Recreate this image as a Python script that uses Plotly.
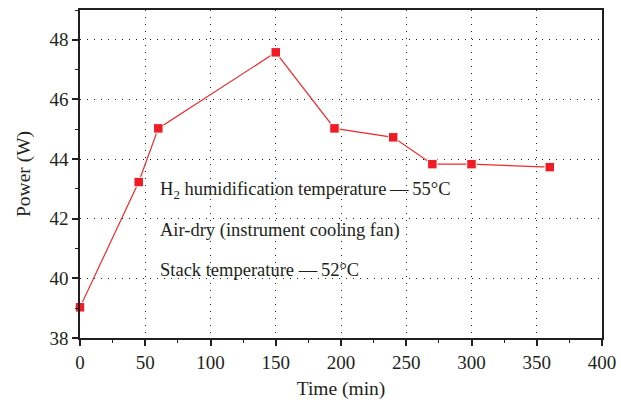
import plotly.graph_objects as go

time_min = [0, 45, 60, 150, 195, 240, 270, 300, 360]
power_w = [39.03, 43.23, 45.03, 47.58, 45.03, 44.73, 43.83, 43.83, 43.73]

x_ticks = [0, 50, 100, 150, 200, 250, 300, 350, 400]
y_ticks = [38, 40, 42, 44, 46, 48]

notes = [
    "H<sub>2</sub> humidification temperature\u2009\u2014\u200955°C",
    "Air-dry (instrument cooling fan)",
    "Stack temperature \u2014\u200952°C",
]
note_y = [42.95, 41.6, 40.28]

FONT = "Liberation Serif, Times New Roman, serif"
INK = "#231f20"

fig = go.Figure()
fig.add_trace(go.Scatter(
    x=time_min, y=power_w, mode="lines+markers",
    line=dict(color="#ee2a2a", width=1.2),
    marker=dict(symbol="square", size=9.5, color="#ee1c25",
                line=dict(color="white", width=1)),
    showlegend=False, cliponaxis=False,
))

for t, yy in zip(notes, note_y):
    fig.add_annotation(x=60, y=yy, text=t, showarrow=False,
                       xanchor="left", yanchor="middle",
                       font=dict(family=FONT, size=18.5, color=INK))

axis_common = dict(
    showline=True, linecolor=INK, linewidth=1.5, mirror=True,
    ticks="outside", ticklen=6, tickwidth=1.5, tickcolor=INK,
    showgrid=True, gridcolor=INK, gridwidth=1, griddash="1px,6px",
    zeroline=False, automargin=False,
    tickfont=dict(family=FONT, size=19, color=INK),
    minor=dict(ticks="outside", ticklen=3, tickwidth=1.2, tickcolor=INK, showgrid=False),
)

fig.update_xaxes(range=[0, 400], tickvals=x_ticks, minor_dtick=25,
                 title=dict(text="Time (min)", font=dict(family=FONT, size=19.5, color=INK), standoff=10),
                 **axis_common)
fig.update_yaxes(range=[38, 49], tickvals=y_ticks, minor_dtick=1,
                 title=dict(text="Power (W)", font=dict(family=FONT, size=19.5, color=INK), standoff=14),
                 **axis_common)

fig.update_layout(
    width=621, height=402,
    margin=dict(l=80, r=19, t=10, b=64),
    plot_bgcolor="white", paper_bgcolor="white",
)

fig.write_html("out.html",
               config={"displayModeBar": False},
               post_script="document.body.style.margin='0';document.body.style.overflow='hidden';")
